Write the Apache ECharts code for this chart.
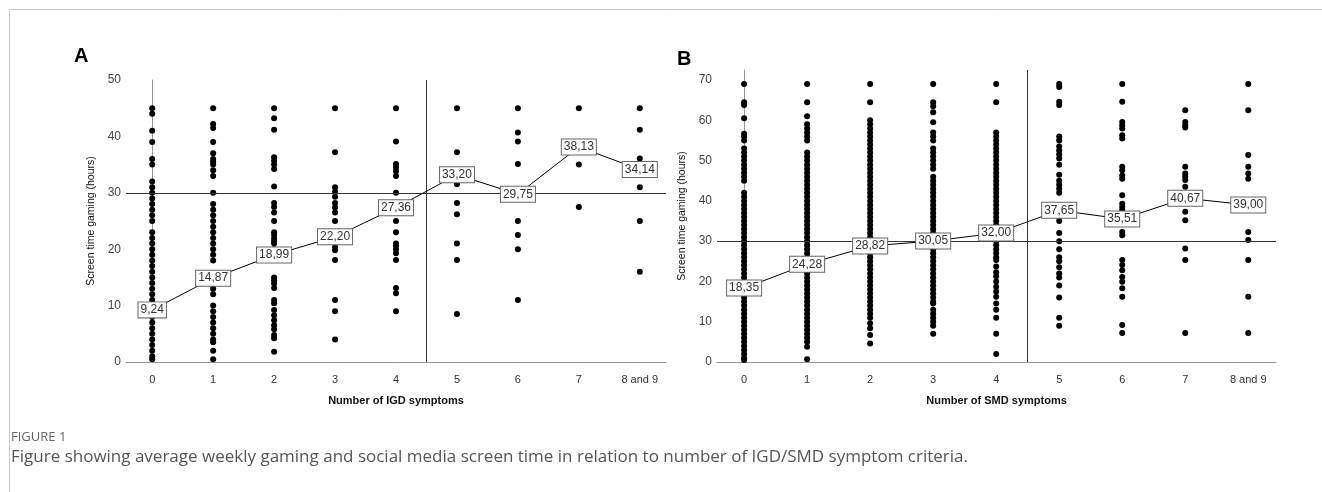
<!DOCTYPE html>
<html>
<head>
<meta charset="utf-8">
<script src="https://cdn.jsdelivr.net/npm/echarts@6/dist/echarts.min.js"></script>
<style>
  html, body { margin: 0; padding: 0; background: #fff; }
  #chart-dev { width: 1322px; height: 492px; }
</style>
</head>
<body>
<div id="chart-dev"></div>
<script>
var categories = ['0', '1', '2', '3', '4', '5', '6', '7', '8 and 9'];

// panel A: screen time gaming by number of IGD symptoms
var igd0 = [0.5, 1, 2, 3, 4, 5, 6, 7, 8, 9, 10, 11, 12, 13, 14, 15, 16, 17, 18, 19, 20, 21, 22, 23, 25, 26, 27, 28, 29, 30, 31, 32, 35, 36, 39, 41, 44, 45];
var igd1 = [0.5, 2, 3.5, 4, 5, 6, 7, 8, 9, 10, 12, 13, 14, 15, 18, 19, 20, 21, 22, 23, 24, 25, 26, 27, 28, 30, 33, 34, 35, 35.5, 36, 37, 39, 41.5, 42.2, 45];
var igd2 = [1.8, 4.2, 4.8, 5.8, 6.5, 7.4, 8.3, 9.2, 10.4, 11, 13.1, 13.9, 14.5, 15, 19, 20, 21, 21.4, 21.9, 22.5, 23, 25, 26.5, 27.5, 28.2, 31.1, 34.2, 35, 35.7, 36.3, 41.2, 43.2, 45];
var igd3 = [4, 9, 11, 18.1, 19.8, 20.4, 25, 26.5, 27.4, 28.2, 29.3, 30.2, 31, 37.2, 45];
var igd4 = [9, 12.2, 13.1, 18.1, 19.3, 20, 20.6, 21, 23, 25, 30, 33, 33.8, 34.5, 35.1, 39.1, 45];
var igd5 = [8.5, 18.1, 21, 26.2, 28.2, 31.5, 37.2, 45];
var igd6 = [11, 20, 22.5, 25, 35.1, 39.1, 40.7, 45];
var igd7 = [27.5, 35, 45];
var igd89 = [16, 25, 31, 36.1, 41.2, 45];
var igdMeans = [9.24, 14.87, 18.99, 22.20, 27.36, 33.20, 29.75, 38.13, 34.14];

// panel B: screen time by number of SMD symptoms
var smd0 = [0.5, 1, 2, 3, 4, 5, 6, 7, 8, 9, 10, 11, 12, 13, 14, 15, 16, 17, 18, 19, 20, 21, 22, 23, 24, 25, 26, 27, 28, 29, 30, 31, 32, 33, 34, 35, 36, 37, 38, 39, 40, 41, 42, 45, 46, 47, 48, 49, 50, 51, 52, 53, 55, 56, 56.7, 60.5, 63.8, 64.5, 69];
var smd1 = [0.7, 3.8, 5, 6, 7, 8, 9, 10, 11, 12, 13, 14, 15, 16, 17, 18, 19, 20, 21, 22, 23, 24, 25, 26, 27, 28, 29, 30, 31, 32, 33, 34, 35, 36, 37, 38, 39, 40, 41, 42, 43, 44, 45, 46, 47, 48, 49, 50, 51, 52, 55, 56, 57, 58, 59, 61, 64.5, 69];
var smd2 = [4.6, 6.7, 8.4, 9.6, 11, 12, 13, 14, 15, 16, 17, 18, 19, 20, 21, 22, 23, 24, 25, 26, 27, 28, 29, 30, 31, 32, 33, 34, 35, 36, 37, 38, 39, 40, 41, 42, 43, 44, 45, 46, 47, 48, 49, 50, 51, 52, 53, 54, 55, 56, 57, 58, 59, 60, 64.5, 69];
var smd3 = [7, 9, 10, 11, 12, 13, 14.5, 15, 16, 17, 18, 19, 20, 21, 22, 23, 24, 25, 26, 27, 28, 29, 30, 31, 32, 33, 34, 35, 36, 37, 38, 39, 40, 41, 42, 43, 44, 45, 46, 48, 49, 50, 51, 52, 53, 55, 56, 57, 59.5, 62, 63.5, 64.5, 69];
var smd4 = [2, 7, 11, 13, 14.5, 16.2, 17.5, 18.7, 20, 21.3, 22.3, 23.7, 25.3, 26, 27, 28, 29, 30, 31, 32, 33, 34, 35, 36, 37, 38, 39, 40, 41, 42, 43, 44, 45, 46, 47, 48, 49, 50, 51, 52, 53, 54, 55, 56, 57, 64.5, 69];
var smd5 = [9, 11, 16, 19, 21, 22, 23.5, 25, 26, 28, 30, 32, 35, 42, 43, 44, 45, 46.5, 49, 50.5, 51.5, 52.5, 53.5, 55, 56, 63.8, 64.6, 68.3, 69];
var smd6 = [7.2, 9.2, 16.2, 18.3, 19.9, 21.1, 22.8, 24.1, 25.3, 31.5, 32.3, 36.5, 37.7, 38.5, 39.3, 41.4, 45.5, 46.3, 47.6, 48.5, 55.5, 56.3, 58, 58.8, 59.6, 64.6, 69];
var smd7 = [7.2, 25.3, 28.2, 35.2, 37.3, 43.5, 45.2, 46, 46.8, 48.5, 58.2, 58.8, 59.6, 62.5];
var smd89 = [7.2, 16.2, 25.3, 30.3, 32.3, 45.5, 46.8, 48.5, 51.4, 62.5, 69];
var smdMeans = [18.35, 24.28, 28.82, 30.05, 32.00, 37.65, 35.51, 40.67, 39.00];

var cutoffX = 4.5;
var cutoffY = 30;

var font = 'Liberation Sans';

function toPoints(groups) {
    var pts = [];
    groups.forEach(function (g, i) {
        g.forEach(function (v) { pts.push([i, v]); });
    });
    return pts;
}

function xAxisFor(idx, name) {
    return {
        type: 'value',
        gridIndex: idx,
        min: -0.43,
        max: idx === 0 ? 8.43 : 8.44,
        name: name,
        nameLocation: 'middle',
        nameGap: 33,
        nameTextStyle: { fontFamily: font, fontSize: 11, fontWeight: 'bold', color: '#111' },
        axisLine: { lineStyle: { color: '#999', width: 1 } },
        axisTick: { show: false },
        splitLine: { show: false },
        axisLabel: {
            customValues: [0, 1, 2, 3, 4, 5, 6, 7, 8],
            formatter: function (v) { return categories[Math.round(v)]; },
            fontFamily: font, fontSize: 11, color: '#333', margin: 12
        }
    };
}

function yAxisFor(idx, max, labels) {
    return {
        type: 'value',
        gridIndex: idx,
        min: 0,
        max: max,
        name: 'Screen time gaming (hours)',
        nameLocation: 'middle',
        nameGap: 29,
        nameTextStyle: { fontFamily: font, fontSize: 10.5, color: '#111' },
        axisLine: { show: true, lineStyle: { color: '#999', width: 1 } },
        axisTick: { show: false },
        splitLine: { show: false },
        axisLabel: {
            customValues: labels,
            fontFamily: font, fontSize: 12, color: '#444', margin: 5
        }
    };
}

function refLines() {
    return {
        silent: true,
        symbol: 'none',
        label: { show: false },
        lineStyle: { color: '#333', width: 1, type: 'solid', opacity: 1 },
        emphasis: { disabled: true },
        data: [{ xAxis: cutoffX }, { yAxis: cutoffY }]
    };
}

function meanSeries(idx, means) {
    return {
        type: 'line',
        xAxisIndex: idx,
        yAxisIndex: idx,
        data: means.map(function (m, i) { return [i, m]; }),
        symbol: 'circle',
        symbolSize: 2,
        z: 5,
        itemStyle: { color: '#000' },
        lineStyle: { color: '#000', width: 1 },
        label: {
            show: true,
            position: 'inside',
            formatter: function (p) { return p.value[1].toFixed(2).replace('.', ','); },
            fontFamily: font,
            fontSize: 12,
            color: '#333',
            backgroundColor: '#fff',
            borderColor: '#666',
            borderWidth: 1,
            padding: [2, 2, 1, 2]
        },
        silent: true
    };
}

function dotSeries(idx, groups) {
    return {
        type: 'scatter',
        xAxisIndex: idx,
        yAxisIndex: idx,
        data: toPoints(groups),
        symbolSize: 6,
        itemStyle: { color: '#000', opacity: 1 },
        z: 3,
        markLine: refLines(),
        silent: true
    };
}

var dom = document.getElementById('chart-dev');
var myChart = echarts.init(dom, null, { renderer: 'canvas', useDirtyRect: false });

var option = {
    animation: false,
    backgroundColor: '#fff',
    grid: [
        { left: 126, top: 80, width: 540, height: 282 },
        { left: 717, top: 70, width: 559, height: 292 }
    ],
    xAxis: [xAxisFor(0, 'Number of IGD symptoms'), xAxisFor(1, 'Number of SMD symptoms')],
    yAxis: [yAxisFor(0, 50, [0, 10, 20, 30, 40, 50]), yAxisFor(1, 72.5, [0, 10, 20, 30, 40, 50, 60, 70])],
    graphic: [
        { type: 'line', silent: true, shape: { x1: 9.5, y1: 9.5, x2: 1322, y2: 9.5 }, style: { stroke: '#ccc', lineWidth: 1 } },
        { type: 'line', silent: true, shape: { x1: 9.5, y1: 9.5, x2: 9.5, y2: 492 }, style: { stroke: '#ccc', lineWidth: 1 } },
        { type: 'text', left: 74, top: 46, style: { text: 'A', font: 'bold 20px "Liberation Sans"', fill: '#000' } },
        { type: 'text', left: 677, top: 49, style: { text: 'B', font: 'bold 20px "Liberation Sans"', fill: '#000' } },
        { type: 'text', left: 11, top: 431, style: { text: 'FIGURE 1', font: '13px "Open Sans"', fill: '#666' } },
        { type: 'text', left: 11, top: 449, style: { text: 'Figure showing average weekly gaming and social media screen time in relation to number of IGD/SMD symptom criteria.', font: '17px "Open Sans"', fill: '#555' } }
    ],
    series: [
        dotSeries(0, [igd0, igd1, igd2, igd3, igd4, igd5, igd6, igd7, igd89]),
        meanSeries(0, igdMeans),
        dotSeries(1, [smd0, smd1, smd2, smd3, smd4, smd5, smd6, smd7, smd89]),
        meanSeries(1, smdMeans)
    ]
};

if (option && typeof option === 'object') {
    myChart.setOption(option);
}

window.addEventListener('resize', myChart.resize);
</script>
</body>
</html>
